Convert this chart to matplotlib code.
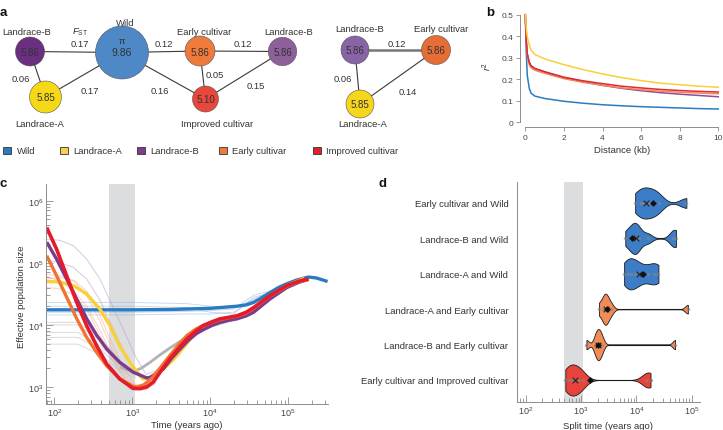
import numpy as np
import matplotlib.pyplot as plt
from matplotlib.patches import Circle, Rectangle
from matplotlib.ticker import LogLocator, NullFormatter

plt.rcParams['font.family'] = ['Liberation Sans', 'DejaVu Sans']
plt.rcParams['mathtext.fontset'] = 'custom'
plt.rcParams['mathtext.rm'] = 'Liberation Sans'
plt.rcParams['mathtext.it'] = 'Liberation Sans:italic'

TXT = '#333333'
AXC = '#8c8c8c'

# ---- data ----
groups = ['Wild', 'Landrace-A', 'Landrace-B', 'Early cultivar', 'Improved cultivar']
group_colors = ['#2b7bc0', '#f9d04a', '#7d3c8e', '#f07a38', '#e41f2c']

# panel a, left network (pi inside nodes, Fst on edges)
net_nodes = ['Landrace-B', 'Wild', 'Landrace-A', 'Early cultivar', 'Landrace-B', 'Improved cultivar']
net_pi = [5.86, 9.86, 5.85, 5.86, 5.86, 5.10]
net_edges = [(0, 1), (0, 2), (2, 1), (1, 3), (1, 5), (3, 5), (3, 4), (4, 5)]
net_fst = [0.17, 0.06, 0.17, 0.12, 0.16, 0.05, 0.12, 0.15]
# panel a, right network
net2_nodes = ['Landrace-B', 'Early cultivar', 'Landrace-A']
net2_pi = [5.86, 5.86, 5.85]
net2_edges = [(0, 1), (0, 2), (2, 1)]
net2_fst = [0.12, 0.06, 0.14]

# panel b, LD decay
dist_kb = [0, 0.05, 0.1, 0.2, 0.3, 0.5, 1, 2, 3, 4, 5, 6, 7, 8, 9, 10]
r2_wild = [0.5, 0.33, 0.22, 0.16, 0.135, 0.122, 0.111, 0.098, 0.089, 0.082, 0.077, 0.073, 0.070, 0.067, 0.064, 0.062]
r2_landA = [0.5, 0.44, 0.40, 0.36, 0.335, 0.315, 0.295, 0.268, 0.245, 0.225, 0.208, 0.194, 0.182, 0.175, 0.168, 0.163]
r2_landB = [0.5, 0.38, 0.32, 0.28, 0.262, 0.25, 0.235, 0.208, 0.188, 0.172, 0.158, 0.147, 0.138, 0.131, 0.125, 0.119]
r2_early = [0.5, 0.37, 0.31, 0.27, 0.253, 0.242, 0.228, 0.203, 0.186, 0.172, 0.160, 0.152, 0.145, 0.140, 0.136, 0.133]
r2_impr = [0.5, 0.38, 0.32, 0.28, 0.262, 0.25, 0.235, 0.21, 0.193, 0.18, 0.168, 0.16, 0.153, 0.148, 0.144, 0.141]

# panel c, demographic history (time in years ago, Ne)
t_wild = [80, 300, 1000, 3000, 1e4, 1.33e4, 2.2e4, 2.9e4, 3.6e4, 4.5e4, 5.8e4, 7.5e4, 9.6e4, 1.3e5, 1.82e5, 2.3e5, 3.2e5]
ne_wild = [1.75e4, 1.75e4, 1.75e4, 1.77e4, 1.85e4, 1.9e4, 2.0e4, 2.1e4, 2.3e4, 2.7e4, 3.3e4, 4.0e4, 4.6e4, 5.3e4, 5.9e4, 5.7e4, 5.0e4]
t_landA = [80, 118, 175, 260, 385, 518, 690, 930, 1260, 1380, 1700, 2260, 3000, 3700, 4800, 6000, 7500, 8900, 1.05e4, 1.33e4, 1.7e4, 2.2e4, 2.9e4, 3.6e4, 5.8e4, 9.6e4, 1.6e5]
ne_landA = [5.0e4, 4.9e4, 4.3e4, 3.15e4, 1.8e4, 9.7e3, 4.6e3, 2.5e3, 1.5e3, 1.35e3, 1.4e3, 1.74e3, 2.4e3, 3.15e3, 4.7e3, 6.7e3, 8.5e3, 9.7e3, 1.05e4, 1.17e4, 1.24e4, 1.3e4, 1.5e4, 1.8e4, 2.9e4, 4.3e4, 5.6e4]
t_landB = [80, 107, 144, 194, 260, 350, 470, 690, 1020, 1530, 1700, 2500, 3200, 4100, 5200, 6700, 8500, 1.05e4, 1.33e4, 1.7e4, 2.2e4, 2.9e4, 3.6e4, 5.8e4, 9.6e4, 1.4e5, 1.82e5]
ne_landB = [2.15e5, 1.15e5, 5.5e4, 2.6e4, 1.26e4, 6.8e3, 4.1e3, 2.5e3, 1.74e3, 1.4e3, 1.43e3, 1.95e3, 2.9e3, 4.1e3, 5.6e3, 7.3e3, 8.6e3, 9.8e3, 1.1e4, 1.18e4, 1.25e4, 1.4e4, 1.6e4, 2.6e4, 4.0e4, 4.9e4, 5.4e4]
t_early = [80, 107, 144, 194, 260, 350, 470, 690, 1020, 1140, 1400, 1800, 2400, 3000, 4000, 5000, 6500, 8100, 1.05e4, 1.33e4, 1.7e4, 2.2e4, 2.9e4, 3.6e4, 5.8e4, 9.6e4, 1.4e5, 1.82e5]
ne_early = [1.3e5, 6.2e4, 2.8e4, 1.26e4, 6.3e3, 3.6e3, 2.2e3, 1.35e3, 1030, 1000, 1080, 1400, 2200, 3150, 4900, 6700, 8500, 9800, 1.1e4, 1.22e4, 1.3e4, 1.38e4, 1.55e4, 1.85e4, 2.9e4, 4.2e4, 5.0e4, 5.4e4]
t_impr = [80, 107, 144, 194, 260, 350, 470, 690, 1020, 1260, 1530, 1860, 2400, 3000, 4000, 5000, 6500, 8100, 1.05e4, 1.33e4, 1.7e4, 2.2e4, 2.9e4, 3.6e4, 5.8e4, 9.6e4, 1.4e5, 1.82e5]
ne_impr = [3.7e5, 1.66e5, 6.2e4, 2.3e4, 9.7e3, 4.6e3, 2.35e3, 1.35e3, 950, 940, 1000, 1200, 1900, 2800, 4300, 5900, 7900, 9700, 1.12e4, 1.25e4, 1.32e4, 1.4e4, 1.6e4, 1.9e4, 2.95e4, 4.3e4, 5.1e4, 5.5e4]
t_gray = [700, 850, 1050, 1300, 1700, 2200, 3000, 4000, 5500, 7500, 1e4, 1.5e4, 2e4, 3e4, 4e4, 6e4, 8e4, 1.2e5, 1.8e5]
ne_gray = [2100, 1900, 1800, 2000, 2500, 3200, 4200, 5300, 6800, 8300, 9500, 1.1e4, 1.25e4, 1.55e4, 1.95e4, 2.8e4, 3.6e4, 4.6e4, 5.5e4]

# faint replicate runs
t_rep_blue = [80, 1000, 5000, 1e4, 2e4, 3.6e4, 5.8e4, 9.6e4, 1.82e5]
ne_rep_blue = [
    [2.3e4, 2.3e4, 2.2e4, 2.0e4, 1.9e4, 2.5e4, 3.3e4, 4.6e4, 5.9e4],
    [1.45e4, 1.45e4, 1.5e4, 1.5e4, 1.6e4, 2.6e4, 3.4e4, 4.5e4, 5.8e4],
    [2.0e4, 2.0e4, 1.9e4, 1.6e4, 1.5e4, 2.8e4, 3.2e4, 4.6e4, 5.8e4],
    [1.6e4, 1.6e4, 1.65e4, 1.7e4, 1.8e4, 3.0e4, 3.5e4, 4.7e4, 5.9e4],
]
t_rep_gray = [80, 200, 400, 700, 1100]
ne_rep_gray = [
    [1.1e4, 1.1e4, 6.0e3, 2.6e3, 1.8e3],
    [1.0e4, 1.0e4, 5.5e3, 2.4e3, 1.7e3],
    [7.6e3, 7.6e3, 4.5e3, 2.2e3, 1.6e3],
    [6.3e3, 6.3e3, 4.0e3, 2.0e3, 1.5e3],
    [4.9e3, 4.9e3, 3.3e3, 1.8e3, 1.4e3],
]
t_rep_purple = [80, 118, 175, 260, 385, 560, 800, 1100, 1500, 2500]
ne_rep_purple = [
    [2.4e5, 2.3e5, 1.9e5, 1.15e5, 5.5e4, 2.0e4, 7.6e3, 3.1e3, 1.6e3, 2.0e3],
    [1.1e5, 1.0e5, 8.5e4, 5.5e4, 2.5e4, 9.0e3, 3.5e3, 1.8e3, 1.4e3, 1.9e3],
]
t_rep_orange = [80, 120, 180, 260, 380, 550, 800, 1100, 1500, 2000]
ne_rep_orange = [
    [6.5e4, 6.2e4, 5.0e4, 3.0e4, 1.2e4, 4.0e3, 1.6e3, 1.0e3, 950, 1200],
    [5.5e4, 5.8e4, 5.2e4, 3.5e4, 1.5e4, 5.0e3, 1.9e3, 1.1e3, 1.0e3, 1300],
    [4.0e4, 3.8e4, 3.0e4, 1.8e4, 7.0e3, 2.8e3, 1.3e3, 900, 900, 1150],
    [6.0e4, 5.0e4, 3.5e4, 2.0e4, 8.5e3, 3.2e3, 1.4e3, 950, 980, 1250],
]

# panel d, split times
pairs = ['Early cultivar and Wild', 'Landrace-B and Wild', 'Landrace-A and Wild',
         'Landrace-A and Early cultivar', 'Landrace-B and Early cultivar',
         'Early cultivar and Improved cultivar']
split_times = [
    [9.5e3, 1.2e4, 1.4e4, 1.7e4, 2.1e4, 2.6e4, 8.0e4],
    [6.3e3, 8.0e3, 9.0e3, 1.0e4, 1.1e4, 1.6e4, 4.6e4, 5.2e4],
    [6.0e3, 7.0e3, 8.0e3, 9.5e3, 1.15e4, 1.6e4, 2.1e4, 2.5e4],
    [2.1e3, 2.5e3, 2.7e3, 2.8e3, 3.0e3, 3.5e3, 8.5e4],
    [1.25e3, 1.8e3, 1.95e3, 2.05e3, 2.2e3, 2.4e3, 5.0e4],
    [520, 600, 680, 780, 900, 1.1e3, 1.5e4, 1.8e4],
]
split_mean = [1.5e4, 1.0e4, 1.1e4, 2.8e3, 2.0e3, 780]
split_median = [2.0e4, 8.5e3, 1.34e4, 2.9e3, 2.05e3, 1.45e3]
pair_colors = ['#3d7cc6', '#3d7cc6', '#3d7cc6', '#f28c56', '#f28c56', '#e8433a']
kde_bw = [0.11, 0.08, 0.1, 0.05, 0.045, 0.1]
domestication = (500, 1100)

fig = plt.figure(figsize=(7.23, 4.31), dpi=100)

# ---------- panel a (pixel coordinates) ----------
ax0 = fig.add_axes([0, 0, 1, 1])
ax0.set_xlim(0, 723)
ax0.set_ylim(431, 0)
ax0.axis('off')

pos = [(30, 52.5), (122, 53.5), (45.5, 98), (200, 52), (282.5, 52.5), (205.5, 100)]
rad = [14.5, 26.5, 16, 15, 14.2, 13]
fill = ['#6a2f80', '#4e88c7', '#f5d816', '#ee7b3b', '#8d5f9b', '#e8473b']
name_xy = [(26.7, 32.3), (125, 23.3), (40, 125), (204, 32.3), (288.3, 32.3), (217.3, 125)]
fst_xy = [(80, 44.3), (20.7, 80), (90, 91.7), (164.3, 44.3), (160, 91.7), (215, 75), (243.3, 44.3), (256, 86.7)]

pos2 = [(355, 51), (436, 51), (360, 105)]
rad2 = [14, 14.5, 14]
fill2 = ['#8764a6', '#e76d37', '#f5d61c']
name2_xy = [(360, 30), (440.7, 30), (363, 125)]
fst2_xy = [(396.7, 44.3), (342.7, 80), (408, 92.3)]

fs = 6.8
for (i, j), f, xy in zip(net_edges, net_fst, fst_xy):
    ax0.plot([pos[i][0], pos[j][0]], [pos[i][1], pos[j][1]], color='#3a3a3a', lw=0.8, zorder=1)
    ax0.text(*xy, f'{f:.2f}', fontsize=fs, color=TXT, ha='center', va='center')
ax0.text(80, 32.7, r'$F_{\mathrm{ST}}$', fontsize=fs, color=TXT, ha='center', va='center')
for n, p, xy, r, c, lab in zip(net_nodes, net_pi, pos, rad, fill, name_xy):
    ax0.add_patch(Circle(xy, r, facecolor=c, edgecolor='#555555', lw=0.4, zorder=3))
    ax0.text(*lab, n, fontsize=fs, color=TXT, ha='center', va='center')
    if n == 'Wild':
        ax0.text(xy[0], xy[1] - 12.5, 'π', fontsize=fs, color=TXT, ha='center', va='center', zorder=4)
        ax0.text(xy[0], xy[1], f'{p:.2f}', fontsize=7.6, color=TXT, ha='center', va='center', zorder=4)
    else:
        ax0.text(xy[0], xy[1] + 0.5, f'{p:.2f}', fontsize=7, color=TXT, ha='center', va='center', zorder=4)

for k, ((i, j), f, xy) in enumerate(zip(net2_edges, net2_fst, fst2_xy)):
    ax0.plot([pos2[i][0], pos2[j][0]], [pos2[i][1], pos2[j][1]],
             color='#777777' if k == 0 else '#3a3a3a', lw=1.8 if k == 0 else 0.8, zorder=1)
    ax0.text(*xy, f'{f:.2f}', fontsize=fs, color=TXT, ha='center', va='center')
for n, p, xy, r, c, lab in zip(net2_nodes, net2_pi, pos2, rad2, fill2, name2_xy):
    ax0.add_patch(Circle(xy, r, facecolor=c, edgecolor='#555555', lw=0.4, zorder=3))
    ax0.text(*lab, n, fontsize=fs, color=TXT, ha='center', va='center')
    ax0.text(xy[0], xy[1] + 0.5, f'{p:.2f}', fontsize=7, color=TXT, ha='center', va='center', zorder=4)

# legend
leg_x = [3.3, 60, 137, 219, 313]
for g, c, x in zip(groups, group_colors, leg_x):
    ax0.add_patch(Rectangle((x, 147.5), 7.5, 7.5, facecolor=c, edgecolor='#333333', lw=0.6))
    ax0.text(x + 13.5, 151.5, g, fontsize=fs, color=TXT, ha='left', va='center')

for letter, xy in zip('abcd', [(3.3, 12.7), (490, 12.7), (3.3, 184), (382.7, 184)]):
    ax0.text(*xy, letter, fontsize=9.5, fontweight='bold', color='#111111', ha='center', va='center')


def style(ax):
    for s in ['top', 'right']:
        ax.spines[s].set_visible(False)
    for s in ['left', 'bottom']:
        ax.spines[s].set_color(AXC)
        ax.spines[s].set_linewidth(0.7)
    ax.tick_params(which='both', colors=AXC, labelcolor='#444444', labelsize=6, width=0.6)


# ---------- panel b ----------
axb = fig.add_axes([520 / 723, (431 - 127.7) / 431, 201 / 723, 112 / 431])
style(axb)
for r2, c in zip([r2_wild, r2_landB, r2_early, r2_impr, r2_landA],
                 ['#2b7bc0', '#8b4d9b', '#f08a4b', '#e0283a', '#f9cf3a']):
    axb.plot(dist_kb, r2, color=c, lw=1.1, clip_on=False)
axb.set_xlim(-0.275, 10.14)
axb.set_ylim(-0.02, 0.5)
axb.spines['left'].set_bounds(0, 0.5)
axb.spines['bottom'].set_bounds(0, 10)
axb.set_xticks([0, 2, 4, 6, 8, 10])
axb.set_yticks([0, 0.1, 0.2, 0.3, 0.4, 0.5])
axb.set_yticklabels(['0', '0.1', '0.2', '0.3', '0.4', '0.5'])
axb.tick_params(direction='out', length=3, pad=2)
axb.set_xlabel('Distance (kb)', fontsize=fs, color=TXT)
axb.xaxis.set_label_coords(0.51, -0.163)
axb.set_ylabel(r'$r^2$', fontsize=fs, color=TXT)
axb.yaxis.set_label_coords(-0.13, 0.55)

# ---------- panel c ----------
axc = fig.add_axes([46 / 723, 26 / 431, 282 / 723, 220 / 431])
style(axc)
axc.set_xscale('log')
axc.set_yscale('log')
axc.axvspan(*domestication, color='#dcdddf', lw=0, zorder=0)
for ne in ne_rep_gray:
    axc.plot(t_rep_gray, ne, color='#b5b5b5', lw=0.7, alpha=0.5)
for ne in ne_rep_blue:
    axc.plot(t_rep_blue, ne, color='#8fb6e0', lw=0.7, alpha=0.5)
for ne in ne_rep_purple:
    axc.plot(t_rep_purple, ne, color='#b99cc8', lw=0.8, alpha=0.5)
for ne in ne_rep_orange:
    axc.plot(t_rep_orange, ne, color='#f4a58c', lw=0.8, alpha=0.45)
axc.plot(t_gray, ne_gray, color='#b3b3b3', lw=2.0, solid_capstyle='butt')
axc.plot(t_wild, ne_wild, color='#2b7bc0', lw=2.4, solid_capstyle='butt')
axc.plot(t_landA, ne_landA, color='#f9cf3a', lw=2.4, solid_capstyle='butt')
axc.plot(t_landB, ne_landB, color='#7b3b8c', lw=2.4, solid_capstyle='butt')
axc.plot(t_early, ne_early, color='#ef7431', lw=2.4, solid_capstyle='butt')
axc.plot(t_impr, ne_impr, color='#e41b2a', lw=2.6, solid_capstyle='butt')
axc.set_xlim(78.3, 3.24e5)
axc.set_ylim(532, 1.86e6)
for a in (axc.xaxis, axc.yaxis):
    a.set_major_locator(LogLocator(base=10, numticks=10))
    a.set_minor_locator(LogLocator(base=10, subs=np.arange(2, 10), numticks=10))
    a.set_minor_formatter(NullFormatter())
axc.tick_params(which='both', direction='in', pad=2, labelsize=6.5)
axc.tick_params(which='major', length=5)
axc.tick_params(which='minor', length=3)
axc.set_xlabel('Time (years ago)', fontsize=fs, color=TXT)
axc.xaxis.set_label_coords(0.5, -0.075)
axc.set_ylabel('Effective population size', fontsize=fs, color=TXT)
axc.yaxis.set_label_coords(-0.071, 0.49)

# ---------- panel d ----------
axd = fig.add_axes([516.7 / 723, (431 - 402.7) / 431, 183.3 / 723, 219.7 / 431])
style(axd)
axd.set_xscale('log')
axd.axvspan(*domestication, color='#dcdddf', lw=0, zorder=0)
for y, (vals, c, mn, md, bw) in enumerate(zip(split_times, pair_colors, split_mean, split_median, kde_bw)):
    lv = np.log10(vals)
    grid = np.linspace(lv.min(), lv.max(), 300)
    dens = np.exp(-0.5 * ((grid[:, None] - lv[None, :]) / bw) ** 2).sum(axis=1)
    half = dens / dens.max() * 0.44
    axd.plot([min(vals), max(vals)], [y, y], color='#1a1a1a', lw=0.8, zorder=2)
    axd.fill_between(10 ** grid, y - half, y + half, facecolor=c, edgecolor='#1a1a1a', lw=0.6, zorder=3)
    axd.scatter(vals, [y] * len(vals), s=7, color='#8a8a8a', alpha=0.55, lw=0, zorder=4)
    axd.scatter([mn], [y], marker='x', s=16, color='#222222', lw=0.8, zorder=5)
    axd.scatter([md], [y], marker='D', s=12, color='#111111', lw=0, zorder=5)
axd.set_xlim(68.7, 1.41e5)
axd.set_ylim(5.613, -0.593)
axd.set_yticks(range(len(pairs)))
axd.set_yticklabels(pairs, fontsize=fs, color=TXT)
axd.tick_params(axis='y', length=0, pad=6)
axd.xaxis.set_major_locator(LogLocator(base=10, numticks=10))
axd.xaxis.set_minor_locator(LogLocator(base=10, subs=np.arange(2, 10), numticks=10))
axd.xaxis.set_minor_formatter(NullFormatter())
axd.tick_params(axis='x', which='both', direction='in', pad=2, labelsize=6.5)
axd.tick_params(axis='x', which='major', length=5)
axd.tick_params(axis='x', which='minor', length=3)
axd.set_xlabel('Split time (years ago)', fontsize=fs, color=TXT)
axd.xaxis.set_label_coords(0.5, -0.086)

fig.savefig('out.png', dpi=100)
